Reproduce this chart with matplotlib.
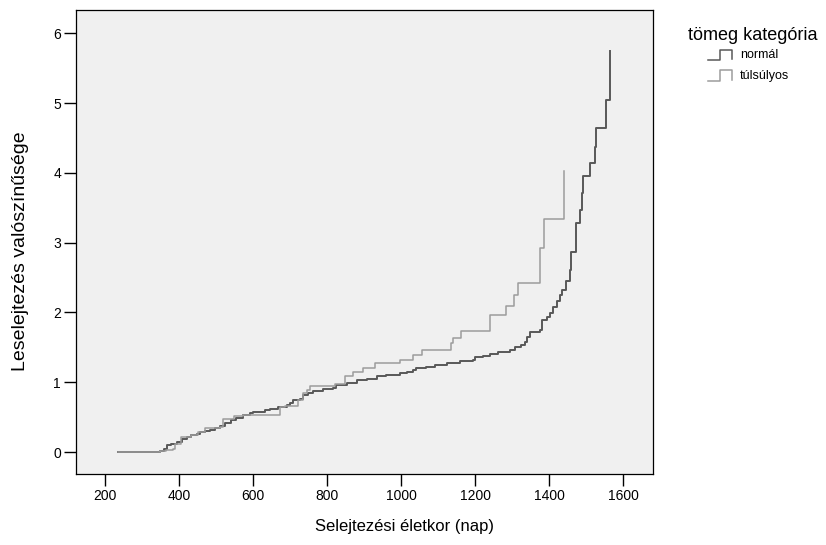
import numpy as np
import matplotlib.pyplot as plt
from matplotlib.lines import Line2D

plt.rcParams['font.family'] = ['Liberation Sans', 'DejaVu Sans']

# cumulative hazard, step points (time in days, value after the step)
normal_t = [234, 348, 358, 366, 378, 393, 408, 420, 433, 447, 456, 469, 484, 498,
            510, 524, 539, 554, 573, 591, 600, 632, 646, 668, 691, 700, 709, 727,
            735, 749, 762, 789, 816, 825, 853, 880, 907, 934, 960, 996, 1016, 1032,
            1041, 1067, 1091, 1123, 1159, 1194, 1199, 1221, 1239, 1262, 1294, 1307,
            1325, 1334, 1339, 1348, 1375, 1380, 1394, 1403, 1411, 1421, 1429, 1434,
            1447, 1456, 1459, 1472, 1483, 1488, 1492, 1512, 1523, 1526, 1553, 1566]
normal_h = [0.0, 0.02, 0.05, 0.10, 0.12, 0.15, 0.19, 0.22, 0.24, 0.26, 0.28, 0.30, 0.32, 0.34,
            0.37, 0.41, 0.46, 0.49, 0.53, 0.56, 0.58, 0.60, 0.62, 0.65, 0.67, 0.70, 0.74, 0.76,
            0.81, 0.85, 0.87, 0.90, 0.92, 0.96, 0.99, 1.03, 1.05, 1.09, 1.11, 1.13, 1.15, 1.17,
            1.20, 1.22, 1.24, 1.27, 1.30, 1.32, 1.36, 1.38, 1.41, 1.43, 1.46, 1.50,
            1.53, 1.58, 1.65, 1.72, 1.75, 1.89, 1.94, 1.99, 2.08, 2.16, 2.25, 2.32,
            2.45, 2.61, 2.86, 3.28, 3.47, 3.71, 3.96, 4.14, 4.37, 4.64, 5.04, 5.74]

tulsulyos_t = [234, 348, 365, 384, 389, 406, 433, 451, 469, 510, 519, 549, 573, 673,
               685, 722, 735, 745, 753, 821, 848, 871, 898, 929, 996, 1032, 1057, 1136,
               1141, 1163, 1239, 1283, 1305, 1315, 1375, 1386, 1441]
tulsulyos_h = [0.0, 0.01, 0.03, 0.05, 0.11, 0.22, 0.25, 0.28, 0.34, 0.36, 0.48, 0.51, 0.53, 0.65,
               0.66, 0.75, 0.84, 0.89, 0.94, 0.98, 1.09, 1.14, 1.21, 1.27, 1.32, 1.39, 1.46, 1.56,
               1.64, 1.73, 1.96, 2.09, 2.25, 2.42, 2.93, 3.34, 4.02]

groups = ['normál', 'túlsúlyos']
colors = ['#585858', '#9c9c9c']

W, H = 826, 545
fig = plt.figure(figsize=(W / 100, H / 100), dpi=100)
ax = fig.add_axes([76 / W, 1 - 474 / H, (653 - 76) / W, (474 - 10) / H])
ax.set_facecolor('#f0f0f0')

l1, = ax.step(normal_t, normal_h, where='post', color=colors[0], lw=1.4)
l2, = ax.step(tulsulyos_t, tulsulyos_h, where='post', color=colors[1], lw=1.1)

ax.set_xlim(121, 1681)
ax.set_ylim(-0.315, 6.334)
ax.set_xticks(range(200, 1601, 200))
ax.set_yticks(range(0, 7))
ax.tick_params(length=8.3, width=1, labelsize=10, pad=2.5)
for s in ax.spines.values():
    s.set_linewidth(0.9)

ax.set_xlabel('Selejtezési életkor (nap)', fontsize=12, va='center', ha='center')
ax.xaxis.set_label_coords((405 - 76) / 577, (474 - 527) / 464)
ax.set_ylabel('Leselejtezés valószínűsége', fontsize=14, va='center', ha='center')
ax.yaxis.set_label_coords((20 - 76) / 577, (474 - 251) / 464)

# legend (SPSS style, outside the plot)
fig.text(688 / W, 1 - 35 / H, 'tömeg kategória', fontsize=13, va='center', ha='left')
rows = [(50, 60), (70, 81)]
for (top, bot), line, name in zip(rows, [l1, l2], groups):
    xs = np.array([708, 720, 720, 732, 732]) / W
    ys = 1 - np.array([bot, bot, top, top, bot - 1]) / H
    fig.add_artist(Line2D(xs, ys, color=line.get_color(), lw=1.1, transform=fig.transFigure))
    fig.text(740 / W, 1 - (top + bot) / 2 / H, name, fontsize=9, va='center', ha='left')

fig.savefig('out.png', dpi=100)
